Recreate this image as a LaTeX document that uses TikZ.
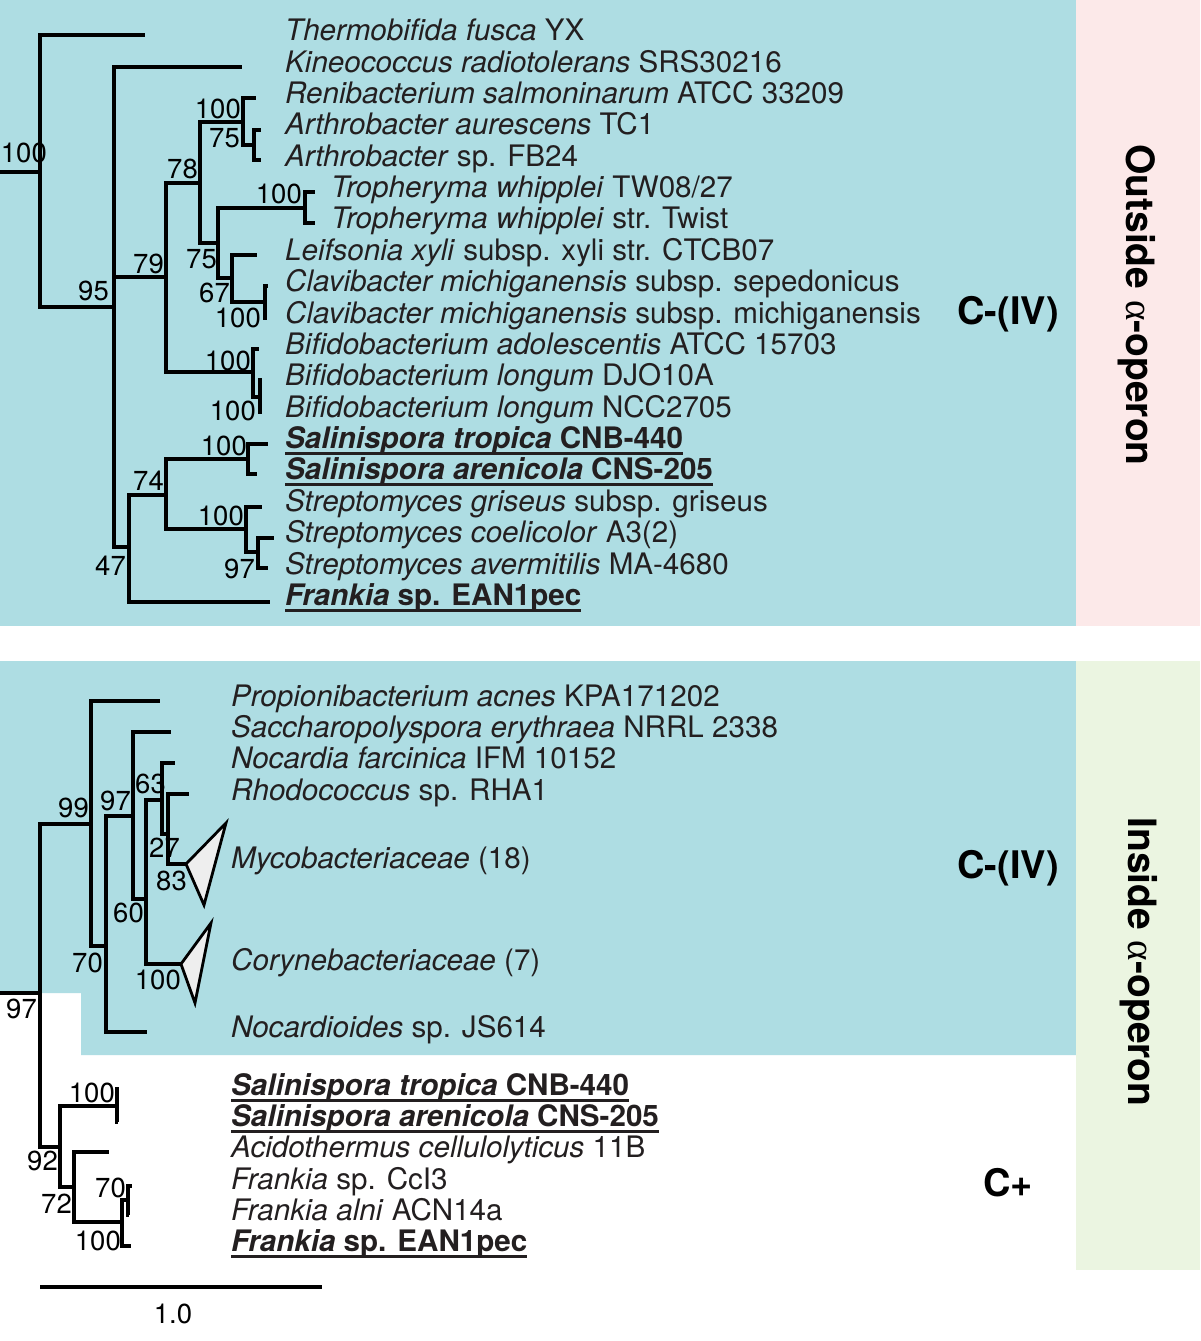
\documentclass[tikz,border=0pt]{standalone}
\usepackage{fontspec}
\setmainfont{TeX Gyre Heros}
\newfontfamily\grk{Liberation Serif}
\definecolor{bluebg}{RGB}{174,221,227}
\definecolor{pinkbg}{RGB}{252,233,233}
\definecolor{greenbg}{RGB}{235,245,225}
\definecolor{txt}{RGB}{35,31,32}
\definecolor{triFill}{RGB}{238,238,238}
\newsavebox\ulbox
\newcommand\myul[1]{\sbox\ulbox{#1}\rlap{\rule[-6.5pt]{\wd\ulbox}{2.4pt}}\usebox\ulbox}
\begin{document}
\begin{tikzpicture}[x=1pt,y=-1pt,
  br/.style={line width=3.2pt, line join=miter},
  leaf/.style={anchor=base west, inner sep=0pt, text=txt, font=\fontsize{29.6}{31}\selectfont},
  bs/.style={anchor=base east, inner sep=0pt, text=black, font=\fontsize{27.5}{29}\selectfont},
  grp/.style={anchor=base, inner sep=0pt, text=black, font=\fontsize{38}{40}\selectfont\bfseries},
  side/.style={anchor=base, inner sep=0pt, rotate=-90, text=black, font=\fontsize{39}{41}\selectfont\bfseries},
  tri/.style={draw=black, fill=triFill, line width=2.8pt, line join=miter}
]
\useasboundingbox (0,0) rectangle (1200,1341);
\fill[white] (0,0) rectangle (1200,1341);
\fill[bluebg] (0,0) rectangle (1076,626);
\fill[pinkbg] (1076,0) rectangle (1200,626);
\fill[bluebg] (0,661) -- (1076,661) -- (1076,1055) -- (81,1055) -- (81,993) -- (0,993) -- cycle;
\fill[greenbg] (1076,661) rectangle (1200,1270);

% ---------- top tree ----------
\coordinate (r0) at (0,172);
\coordinate (A) at (40,172);
\coordinate (tThermo) at (145,35);
\coordinate (B) at (114,307);
\coordinate (tKine) at (242,67);
\coordinate (C) at (166,277);
\coordinate (D) at (200,183);
\coordinate (E) at (243,122);
\coordinate (tReni) at (256,98);
\coordinate (F) at (254,145);
\coordinate (tArthA) at (261,130);
\coordinate (tArthB) at (261,160);
\coordinate (G) at (218,243);
\coordinate (H) at (305,208);
\coordinate (tTrophA) at (315,192);
\coordinate (tTrophB) at (315,223);
\coordinate (I) at (232,278);
\coordinate (tLeif) at (257,255);
\coordinate (J) at (265,302);
\coordinate (tClavA) at (268,286);
\coordinate (tClavB) at (267,318);
\coordinate (K) at (253,372);
\coordinate (tBifA) at (259,349);
\coordinate (L) at (260,397);
\coordinate (tBifB) at (262,380);
\coordinate (tBifC) at (262,412);
\coordinate (M) at (129,547);
\coordinate (N) at (166,495);
\coordinate (O) at (248,459);
\coordinate (tSalT) at (268,444);
\coordinate (tSalA) at (257,474);
\coordinate (P) at (246,529);
\coordinate (tSgri) at (262,507);
\coordinate (Q) at (258,552);
\coordinate (tScoe) at (274,538);
\coordinate (tSave) at (268,568);
\coordinate (tFrank) at (270,602);

\draw[br] (r0) -- (A);
\foreach \p/\c in {A/tThermo, A/B, B/tKine, B/C, B/M, C/D, C/K, D/E, D/G,
  E/tReni, E/F, F/tArthA, F/tArthB, G/H, G/I, H/tTrophA, H/tTrophB,
  I/tLeif, I/J, J/tClavA, J/tClavB, K/tBifA, K/L, L/tBifB, L/tBifC,
  M/N, M/tFrank, N/O, N/P, O/tSalT, O/tSalA, P/tSgri, P/Q, Q/tScoe, Q/tSave}
  \draw[br] (\p) |- (\c);

% support values top
\node[bs] (v1) at (47,162) {100};
\node[bs] (v2) at (109,300) {95};
\node[bs] (v3) at (164,273) {79};
\node[bs] (v4) at (198,178) {78};
\node[bs] (v5) at (241,118) {100};
\node[bs] (v6) at (240,147) {75};
\node[bs] (v7) at (302,203) {100};
\node[bs] (v8) at (217,268) {75};
\node[bs] (v9) at (230,302) {67};
\node[bs] (v10) at (261,327) {100};
\node[bs] (v11) at (251,370) {100};
\node[bs] (v12) at (256,420) {100};
\node[bs] (v13) at (247,455) {100};
\node[bs] (v14) at (164,490) {74};
\node[bs] (v15) at (244,525) {100};
\node[bs] (v16) at (255,578) {97};
\node[bs] (v17) at (126,575) {47};

% leaves top
\node[leaf] (a1) at (285,40) {\textit{Thermobifida fusca} YX};
\node[leaf] (a2) at (285,72) {\textit{Kineococcus radiotolerans} SRS30216};
\node[leaf] (a3) at (285,103) {\textit{Renibacterium salmoninarum} ATCC 33209};
\node[leaf] (a4) at (285,134) {\textit{Arthrobacter aurescens} TC1};
\node[leaf] (a5) at (285,166) {\textit{Arthrobacter} sp. FB24};
\node[leaf] (a6) at (331,197) {\textit{Tropheryma whipplei} TW08/27};
\node[leaf] (a7) at (331,228) {\textit{Tropheryma whipplei} str. Twist};
\node[leaf] (a8) at (285,260) {\textit{Leifsonia xyli} subsp. xyli str. CTCB07};
\node[leaf] (a9) at (285,291) {\textit{Clavibacter michiganensis} subsp. sepedonicus};
\node[leaf] (a10) at (285,323) {\textit{Clavibacter michiganensis} subsp. michiganensis};
\node[leaf] (a11) at (285,354) {\textit{Bifidobacterium adolescentis} ATCC 15703};
\node[leaf] (a12) at (285,385) {\textit{Bifidobacterium longum} DJO10A};
\node[leaf] (a13) at (285,417) {\textit{Bifidobacterium longum} NCC2705};
\node[leaf] (a14) at (285,448) {\myul{\bfseries\textit{Salinispora tropica} CNB-440}};
\node[leaf] (a15) at (285,479) {\myul{\bfseries\textit{Salinispora arenicola} CNS-205}};
\node[leaf] (a16) at (285,511) {\textit{Streptomyces griseus} subsp. griseus};
\node[leaf] (a17) at (285,542) {\textit{Streptomyces coelicolor} A3(2)};
\node[leaf] (a18) at (285,574) {\textit{Streptomyces avermitilis} MA-4680};
\node[leaf] (a19) at (285,605) {\myul{\bfseries\textit{Frankia} sp. EAN1pec}};

% ---------- bottom tree ----------
\coordinate (b0) at (0,993);
\coordinate (R) at (40,993);
\coordinate (S99) at (91,824);
\coordinate (tProp) at (160,701);
\coordinate (S70) at (106,946);
\coordinate (tNocd) at (147,1032);
\coordinate (S97) at (133,816);
\coordinate (tSacc) at (171,732);
\coordinate (S60) at (146,899);
\coordinate (S63) at (162,800);
\coordinate (tNocf) at (175,763);
\coordinate (S27) at (168,834);
\coordinate (tRhodo) at (189,794);
\coordinate (mycA) at (186,864);
\coordinate (mycT) at (226,823);
\coordinate (mycB) at (204,905);
\coordinate (corA) at (181,964);
\coordinate (corT) at (211,923);
\coordinate (corB) at (195,1003);
\coordinate (S92) at (60,1147);
\coordinate (S100a) at (117,1106);
\coordinate (tSalT2) at (119,1089);
\coordinate (tSalA2) at (118,1122);
\coordinate (S72) at (74,1187);
\coordinate (tAcid) at (109,1152);
\coordinate (S100b) at (122,1222);
\coordinate (S70b) at (128,1200);
\coordinate (tFCc) at (132,1186);
\coordinate (tFal) at (129,1215);
\coordinate (tFEAN) at (131,1246);

\draw[br] (b0) -- (R);
\foreach \p/\c in {R/S99, R/S92, S99/tProp, S99/S70, S70/S97, S70/tNocd,
  S97/tSacc, S97/S60, S60/S63, S60/corA, S63/tNocf, S63/S27, S27/tRhodo, S27/mycA,
  S92/S100a, S92/S72, S100a/tSalT2, S100a/tSalA2, S72/tAcid, S72/S100b,
  S100b/S70b, S100b/tFEAN, S70b/tFCc, S70b/tFal}
  \draw[br] (\p) |- (\c);

\draw[tri] (mycA) -- (mycT) -- (mycB) -- cycle;
\draw[tri] (corA) -- (corT) -- (corB) -- cycle;

% support values bottom
\node[bs] (w1) at (89,817) {99};
\node[bs] (w2) at (131,810) {97};
\node[bs] (w3) at (166,793) {63};
\node[bs] (w4) at (180,857) {27};
\node[bs] (w5) at (187,890) {83};
\node[bs] (w6) at (144,922) {60};
\node[bs] (w7) at (103,972) {70};
\node[bs] (w8) at (181,989) {100};
\node[bs] (w9) at (37,1018) {97};
\node[bs] (w10) at (115,1102) {100};
\node[bs] (w11) at (58,1170) {92};
\node[bs] (w12) at (72,1213) {72};
\node[bs] (w13) at (126,1197) {70};
\node[bs] (w14) at (121,1250) {100};

% leaves bottom
\node[leaf] (c1) at (231,706) {\textit{Propionibacterium acnes} KPA171202};
\node[leaf] (c2) at (231,737) {\textit{Saccharopolyspora erythraea} NRRL 2338};
\node[leaf] (c3) at (231,768) {\textit{Nocardia farcinica} IFM 10152};
\node[leaf] (c4) at (231,800) {\textit{Rhodococcus} sp. RHA1};
\node[leaf] (c5) at (231,868) {\textit{Mycobacteriaceae} (18)};
\node[leaf] (c6) at (231,970) {\textit{Corynebacteriaceae} (7)};
\node[leaf] (c7) at (231,1037) {\textit{Nocardioides} sp. JS614};
\node[leaf] (c8) at (231,1095) {\myul{\bfseries\textit{Salinispora tropica} CNB-440}};
\node[leaf] (c9) at (231,1126) {\myul{\bfseries\textit{Salinispora arenicola} CNS-205}};
\node[leaf] (c10) at (231,1157) {\textit{Acidothermus cellulolyticus} 11B};
\node[leaf] (c11) at (231,1189) {\textit{Frankia} sp. CcI3};
\node[leaf] (c12) at (231,1220) {\textit{Frankia alni} ACN14a};
\node[leaf] (c13) at (231,1251) {\myul{\bfseries\textit{Frankia} sp. EAN1pec}};

% scale bar
\coordinate (s0) at (40,1287);
\coordinate (s1) at (322,1287);
\draw[line width=3.2pt] (s0) -- (s1);
\node[anchor=base, inner sep=0pt, font=\fontsize{27.5}{29}\selectfont] (sl) at (173,1323) {1.0};

% group labels
\node[grp] (g1) at (1008,324) {C-(IV)};
\node[grp] (g2) at (1008,878) {C-(IV)};
\node[grp] (g3) at (1008,1196) {C+};
\node[side] (o1) at (1126,305) {Outside {\grk\mdseries α}-operon};
\node[side] (o2) at (1128,962) {Inside {\grk\mdseries α}-operon};
\end{tikzpicture}
\end{document}
